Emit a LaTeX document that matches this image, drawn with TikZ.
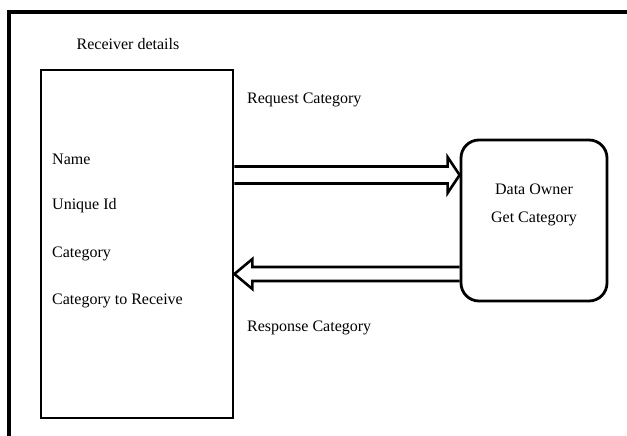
\documentclass[tikz,border=0pt]{standalone}
\usepackage{fontspec}
\setmainfont{Liberation Serif}
\usetikzlibrary{positioning, calc}

\tikzset{
  txt/.style={inner sep=0pt, font=\fontsize{16}{19}\selectfont},
  panel/.style={draw, line width=2.8pt, inner sep=0pt},
  blockarrow/.style={draw, line width=2.6pt, line join=miter}
}

\begin{document}
\begin{tikzpicture}[x=1pt, y=-1pt]
			\useasboundingbox (0,0) rectangle (627,436);
			% outer frame, running off the page
			\draw[line width=3.5pt] (9,450) -- (9,12) -- (640,12);
			% the two boxes
			\node[panel, minimum width=192pt, minimum height=348pt] (recv) at (137,244) {};
			\node[panel, rounded corners=18pt, minimum width=146pt, minimum height=161pt] (owner) at (534,220.5) {};
			% labels
			\node[txt] (title) at (128,44) {Receiver details};
			\node[txt, anchor=west] (name) at (52,159) {Name};
			\node[txt, anchor=west] (uid) at (52,206) {Unique Id};
			\node[txt, anchor=west] (cat) at (52,254) {Category};
			\node[txt, anchor=west] (catrecv) at (52,301) {Category to Receive};
			\node[txt] (dataowner) at (534,189) {Data Owner};
			\node[txt] (getcat) at (534,219) {Get Category};
			\node[txt, anchor=west] (req) at (247,100) {Request Category};
			\node[txt, anchor=west] (resp) at (247,328) {Response Category};
			% request arrow
			\coordinate (rqtail) at (recv.east |- 0,175);
			\coordinate (rqtip) at (owner.west |- 0,175);
			\draw[blockarrow] ($(rqtail)+(0,-8.5)$) -- ($(rqtip)+(-12,-8.5)$) -- ($(rqtip)+(-12,-18)$)
				-- (rqtip) -- ($(rqtip)+(-12,18)$) -- ($(rqtip)+(-12,8.5)$) -- ($(rqtail)+(0,8.5)$);
			% response arrow
			\coordinate (rstail) at (owner.west |- 0,274);
			\coordinate (rstip) at (recv.east |- 0,274);
			\draw[blockarrow] ($(rstail)+(0,-7)$) -- ($(rstip)+(18,-7)$) -- ($(rstip)+(18,-15)$)
				-- (rstip) -- ($(rstip)+(18,15)$) -- ($(rstip)+(18,7)$) -- ($(rstail)+(0,7)$);
		\end{tikzpicture}
\end{document}
